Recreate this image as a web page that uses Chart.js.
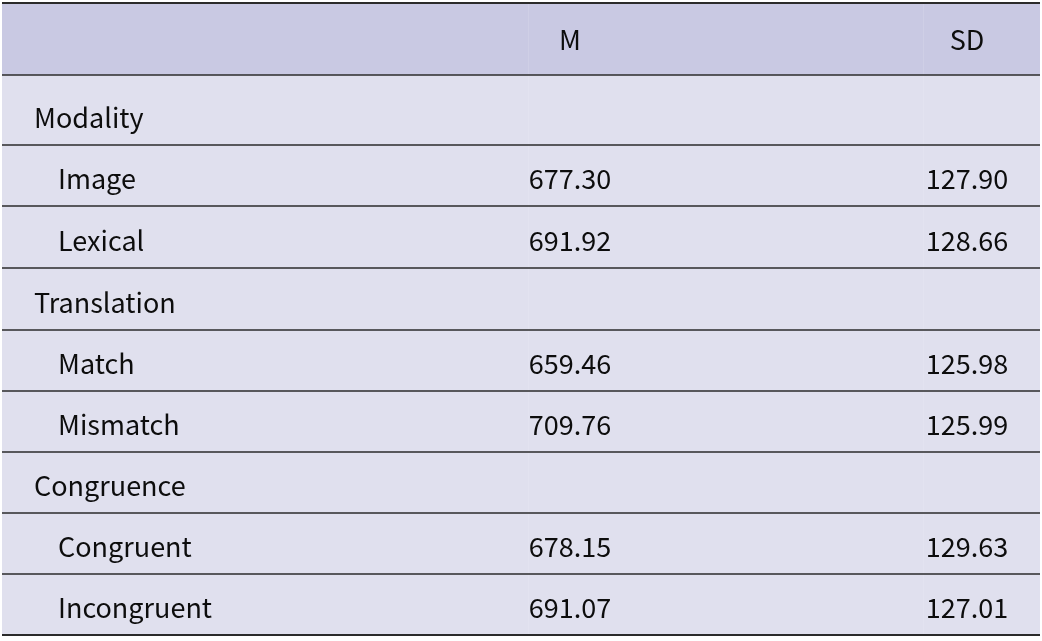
<!DOCTYPE html>
<html>
<head>
<meta charset="utf-8">
<script src="https://cdn.jsdelivr.net/npm/chart.js@4"></script>
<style>
  html, body { margin: 0; padding: 0; background: #ffffff; }
  #wrap { width: 1042px; height: 641px; }
</style>
</head>
<body>
<div id="wrap"><canvas id="tableChart" width="1042" height="641"></canvas></div>
<script>
// ── data ──────────────────────────────
const columns = ['', 'M', 'SD'];
const groups = ['Modality', 'Translation', 'Congruence'];
const levels = [['Image', 'Lexical'], ['Match', 'Mismatch'], ['Congruent', 'Incongruent']];
const meanRT = [677.30, 691.92, 659.46, 709.76, 678.15, 691.07];
const sdRT = [127.90, 128.66, 125.98, 125.99, 129.63, 127.01];

// ── layout ────────────────────────────
const ROW_H = [72, 70, 61, 62, 62, 61, 61, 61, 61, 61];
const TOP = 3;
const COL = { group: 34, level: 58, m: 570, sd: 967 };
const FONT = "27px 'Noto Sans CJK SC', 'Noto Sans', sans-serif";

// flatten groups/levels into table rows
const rows = [];
let k = 0;
groups.forEach((g, gi) => {
  rows.push({ label: g, indent: false, m: null, sd: null });
  levels[gi].forEach(l => {
    rows.push({ label: l, indent: true, m: meanRT[k], sd: sdRT[k] });
    k++;
  });
});

// row edges in y units
const edges = [TOP];
ROW_H.forEach(h => edges.push(edges[edges.length - 1] + h));

const tablePlugin = {
  id: 'tablePlugin',
  beforeDatasetsDraw(chart) {
    const { ctx, scales: { x, y } } = chart;
    const left = x.getPixelForValue(2), right = x.getPixelForValue(1040);
    ctx.save();
    // backgrounds
    edges.slice(0, -1).forEach((e, i) => {
      const y0 = y.getPixelForValue(e), y1 = y.getPixelForValue(edges[i + 1]);
      ctx.fillStyle = i === 0 ? '#c9c9e3' : '#e0e0ee';
      ctx.fillRect(left, y0, right - left, y1 - y0);
    });
    // faint column separators
    ctx.strokeStyle = 'rgba(255,255,255,0.12)';
    ctx.lineWidth = 1;
    [528, 923].forEach(c => {
      const px = Math.round(x.getPixelForValue(c)) + 0.5;
      ctx.beginPath();
      ctx.moveTo(px, y.getPixelForValue(edges[0]));
      ctx.lineTo(px, y.getPixelForValue(edges[edges.length - 1]));
      ctx.stroke();
    });
    // horizontal rules
    edges.forEach((e, i) => {
      const outer = i === 0 || i === edges.length - 1;
      ctx.strokeStyle = '#2b2b2b';
      ctx.lineWidth = outer ? 2.2 : 1.4;
      const py = y.getPixelForValue(e);
      ctx.beginPath();
      ctx.moveTo(left, py);
      ctx.lineTo(right, py);
      ctx.stroke();
    });
    // text
    ctx.font = FONT;
    ctx.fillStyle = '#0d0d0d';
    ctx.textBaseline = 'alphabetic';
    const headBase = y.getPixelForValue(edges[1] - 25);
    ctx.textAlign = 'center';
    ctx.fillText(columns[1], x.getPixelForValue(COL.m), headBase);
    ctx.fillText(columns[2], x.getPixelForValue(COL.sd), headBase);
    rows.forEach((r, i) => {
      const base = y.getPixelForValue(edges[i + 2] - 17);
      ctx.textAlign = 'left';
      ctx.fillText(r.label, x.getPixelForValue(r.indent ? COL.level : COL.group), base);
      if (r.m !== null) {
        ctx.textAlign = 'center';
        ctx.fillText(r.m.toFixed(2), x.getPixelForValue(COL.m), base);
        ctx.fillText(r.sd.toFixed(2), x.getPixelForValue(COL.sd), base);
      }
    });
    ctx.restore();
  }
};

new Chart(document.getElementById('tableChart').getContext('2d'), {
  type: 'scatter',
  data: { datasets: [] },
  options: {
    responsive: false,
    animation: false,
    devicePixelRatio: 1,
    layout: { padding: 0 },
    plugins: { legend: { display: false }, tooltip: { enabled: false } },
    scales: {
      x: { type: 'linear', min: 0, max: 1042, display: false },
      y: { type: 'linear', min: 0, max: 641, reverse: true, display: false }
    }
  },
  plugins: [tablePlugin]
});
</script>
</body>
</html>
